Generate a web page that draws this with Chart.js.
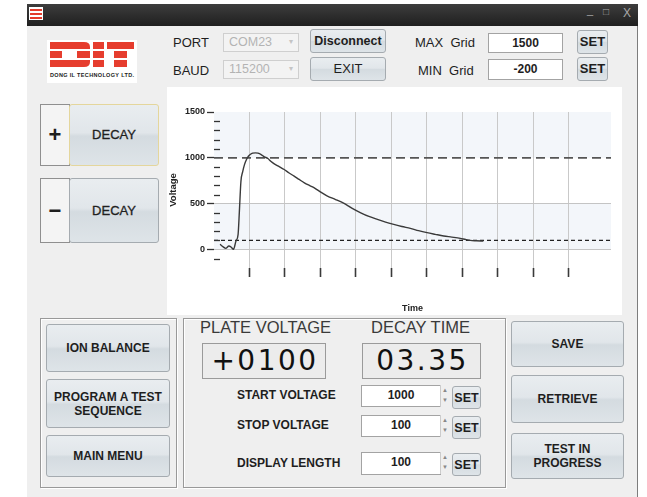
<!DOCTYPE html>
<html>
<head>
<meta charset="utf-8">
<script src="https://cdn.jsdelivr.net/npm/chart.js@4.4.0/dist/chart.umd.min.js"></script>
<style>
body { margin:0; width:647px; height:497px; position:relative; overflow:hidden; background:#fff; font-family:"Liberation Sans", Arial, sans-serif; color:#1e1e1e; }
.abs { position:absolute; }
#janela { left:27px; top:4px; width:610px; height:493px; background:#efefef; border-right:1px solid #7d7d7d; }
#barra { left:27px; top:4px; width:611px; height:22px; background:linear-gradient(#3d3d3d,#1f1f1f); }
.ctrl { position:absolute; top:6px; color:#a8a8a8; font-size:11px; }
.btn { position:absolute; box-sizing:border-box; border:1px solid #a5abb0; border-radius:3px; background:linear-gradient(#e9edf0 0%, #e1e6ea 46%, #d4dbe0 52%, #dee4e8 100%); display:flex; align-items:center; justify-content:center; text-align:center; font-weight:bold; font-size:12px; line-height:14px; color:#1e1e1e; }
.caixa { position:absolute; box-sizing:border-box; background:#fff; border:1px solid #a3a3a3; text-align:center; font-weight:bold; font-size:12px; padding-top:2px; }
.combo { position:absolute; box-sizing:border-box; background:#f3f3f3; border:1px solid #cfcfcf; color:#b3b3b3; font-size:12.5px; padding:1px 0 0 5px; }
.combo span { position:absolute; right:5px; top:3px; font-size:8px; color:#c4c4c4; }
.rot { position:absolute; font-size:13px; white-space:nowrap; }
.rotb { position:absolute; font-size:12px; font-weight:bold; white-space:nowrap; }
.grupo { position:absolute; box-sizing:border-box; border:1px solid #999; box-shadow: inset 1px 1px 0 #fff, 1px 1px 0 #fff; }
.mostrador { position:absolute; box-sizing:border-box; border:1px solid #9a9a9a; background:#ececec; font-family:"DejaVu Sans", sans-serif; font-size:28px; letter-spacing:2.5px; padding-left:2px; text-align:center; line-height:34px; color:#111; }
.spin { position:absolute; box-sizing:border-box; width:9px; height:22px; border-left:1px solid #ccc; font-size:6px; color:#888; text-align:center; line-height:10px; }
.sinal { position:absolute; box-sizing:border-box; background:#f4f4f4; border:1px solid #8f8f8f; font-size:22px; font-weight:bold; display:flex; align-items:center; justify-content:center; }
#grafico { left:167px; top:87px; width:455px; height:228px; background:#fff; }
</style>
</head>
<body>
<div id="janela" class="abs"></div>
<div id="barra" class="abs"></div>
<svg class="abs" style="left:29px;top:7px" width="14" height="13">
  <rect width="14" height="13" fill="#fff"/>
  <rect x="1" y="2" width="12" height="2" fill="#e33b2b"/>
  <rect x="1" y="6" width="12" height="2" fill="#e33b2b"/>
  <rect x="1" y="10" width="12" height="2" fill="#e33b2b"/>
</svg>
<div class="ctrl" style="left:587px;top:4px">_</div>
<div class="ctrl" style="left:603px;font-size:10px">&#9633;</div>
<div class="ctrl" style="left:623px;font-size:12px">X</div>

<svg class="abs" style="left:47px;top:40px" width="90" height="43">
  <rect width="90" height="43" fill="#fff"/>
  <g fill="#e63d2e">
    <path d="M3 2 H37 Q43 2 43 7 V9 H3 Z"/>
    <rect x="3" y="11" width="12" height="7"/>
    <rect x="30" y="11" width="13" height="7"/>
    <path d="M3 20 H43 V22 Q43 27 37 27 H3 Z"/>
    <rect x="46" y="2" width="11" height="7"/>
    <rect x="46" y="11" width="11" height="7"/>
    <rect x="46" y="20" width="11" height="7"/>
    <rect x="60" y="2" width="27" height="7"/>
    <rect x="67" y="11" width="13" height="7"/>
    <rect x="67" y="20" width="13" height="7"/>
  </g>
  <text x="3" y="37" font-size="5.5" font-weight="bold" font-family="Liberation Sans, Arial" textLength="84" fill="#222">DONG IL TECHNOLOGY LTD.</text>
</svg>

<div class="rot" style="left:173px;top:35px">PORT</div>
<div class="rot" style="left:173px;top:63px">BAUD</div>
<div class="combo" style="left:223px;top:33px;width:76px;height:19px">COM23<span>&#9662;</span></div>
<div class="combo" style="left:223px;top:60px;width:76px;height:19px">115200<span>&#9662;</span></div>
<div class="btn" style="left:310px;top:29px;width:76px;height:24px;font-size:12.5px">Disconnect</div>
<div class="btn" style="left:310px;top:57px;width:76px;height:24px;font-weight:normal;font-size:13px">EXIT</div>
<div class="rot" style="left:415px;top:35px">MAX&nbsp; Grid</div>
<div class="rot" style="left:418px;top:63px">MIN&nbsp; Grid</div>
<div class="caixa" style="left:488px;top:33px;width:75px;height:20px">1500</div>
<div class="caixa" style="left:488px;top:59px;width:75px;height:21px">-200</div>
<div class="btn" style="left:577px;top:30px;width:31px;height:24px;font-size:13px">SET</div>
<div class="btn" style="left:577px;top:57px;width:31px;height:24px;font-size:13px">SET</div>

<div class="sinal" style="left:40px;top:104px;width:30px;height:62px">+</div>
<div class="btn" style="left:69px;top:104px;width:90px;height:62px;border-color:#e4d69c;font-weight:normal;font-size:13px;-webkit-text-stroke:0.3px #222">DECAY</div>
<div class="sinal" style="left:40px;top:178px;width:30px;height:65px">&minus;</div>
<div class="btn" style="left:69px;top:178px;width:90px;height:65px;font-weight:normal;font-size:13px;-webkit-text-stroke:0.3px #222">DECAY</div>

<div id="grafico" class="abs"><canvas id="graficoDecaimento" width="455" height="228"></canvas></div>

<div class="grupo" style="left:40px;top:318px;width:137px;height:170px"></div>
<div class="btn" style="left:46px;top:324px;width:124px;height:48px">ION BALANCE</div>
<div class="btn" style="left:46px;top:379px;width:124px;height:49px">PROGRAM A TEST<br>SEQUENCE</div>
<div class="btn" style="left:46px;top:435px;width:124px;height:42px">MAIN MENU</div>

<div class="grupo" style="left:183px;top:318px;width:323px;height:170px"></div>
<div class="rot" style="left:200px;top:318px;font-size:16.5px;color:#3a3a3a">PLATE VOLTAGE</div>
<div class="rot" style="left:371px;top:318px;font-size:16.5px;color:#3a3a3a">DECAY TIME</div>
<div class="mostrador" style="left:202px;top:343px;width:124px;height:36px">+0100</div>
<div class="mostrador" style="left:362px;top:343px;width:119px;height:36px">03.35</div>

<div class="rotb" style="left:237px;top:388px">START VOLTAGE</div>
<div class="caixa" style="left:361px;top:385px;width:80px;height:22px">1000</div>
<div class="spin" style="left:440px;top:385px">&#9650;<br>&#9660;</div>
<div class="btn" style="left:452px;top:386px;width:29px;height:23px;font-size:12.5px">SET</div>

<div class="rotb" style="left:237px;top:418px">STOP VOLTAGE</div>
<div class="caixa" style="left:361px;top:415px;width:80px;height:22px">100</div>
<div class="spin" style="left:440px;top:415px">&#9650;<br>&#9660;</div>
<div class="btn" style="left:452px;top:416px;width:29px;height:23px;font-size:12.5px">SET</div>

<div class="rotb" style="left:237px;top:456px">DISPLAY LENGTH</div>
<div class="caixa" style="left:361px;top:452px;width:80px;height:23px">100</div>
<div class="spin" style="left:440px;top:452px">&#9650;<br>&#9660;</div>
<div class="btn" style="left:452px;top:453px;width:29px;height:23px;font-size:12.5px">SET</div>

<div class="btn" style="left:511px;top:321px;width:113px;height:46px">SAVE</div>
<div class="btn" style="left:511px;top:375px;width:113px;height:48px">RETRIEVE</div>
<div class="btn" style="left:511px;top:433px;width:113px;height:46px">TEST IN<br>PROGRESS</div>

<script>
// dados da curva de decaimento (tempo em divisoes, tensao em V)
var tempos = [0.17, 0.26, 0.33, 0.42, 0.49, 0.55, 0.62, 0.68, 0.72, 0.76, 0.81, 0.86, 0.92, 0.97, 1.03, 1.09, 1.17, 1.24, 1.33, 1.42,
    1.52, 1.61, 1.70, 1.84, 1.98, 2.12, 2.26, 2.40, 2.55, 2.69, 2.83, 3.00, 3.20, 3.43, 3.67, 3.80, 3.90, 4.14, 4.37, 4.61,
    4.84, 5.07, 5.30, 5.54, 5.77, 6.01, 6.24, 6.48, 6.71, 6.95, 7.10, 7.23, 7.40, 7.60];
var tensoes = [58, 30, 14, 40, 25, 3, 94, 167, 450, 746, 850, 927, 985, 1018, 1040, 1051, 1055, 1051, 1036, 1012,
    993, 960, 935, 905, 873, 835, 801, 765, 728, 700, 674, 630, 584, 546, 503, 474, 450, 402, 362, 329,
    300, 275, 252, 232, 207, 185, 167, 149, 137, 123, 110, 101, 97, 94];

var gradeMin = -200;
var gradeMax = 1500;
var tempoMax = 11.2;
var tensaoInicial = 1000;
var tensaoFinal = 100;
var faixasSombreadas = [[1000, 1500], [0, 500]];

Chart.defaults.font.family = '"Liberation Sans", Arial, sans-serif';

var pontosCurva = [];
for (var i = 0; i < tempos.length; i++) {
    pontosCurva.push({ x: tempos[i], y: tensoes[i] });
}

const pluginFaixas = {
    id: 'faixas',
    beforeDraw(chart) {
        const ctx = chart.ctx;
        const area = chart.chartArea;
        const y = chart.scales.y;
        ctx.save();
        ctx.fillStyle = '#f3f6fa';
        faixasSombreadas.forEach((f) => {
            const yTopo = y.getPixelForValue(f[1]);
            const yBase = y.getPixelForValue(f[0]);
            ctx.fillRect(area.left, yTopo, area.right - area.left, yBase - yTopo);
        });
        ctx.restore();
    },
    afterDraw(chart) {
        // marcas menores do eixo y, para dentro da area
        const ctx = chart.ctx;
        const area = chart.chartArea;
        const y = chart.scales.y;
        ctx.save();
        ctx.strokeStyle = '#333';
        ctx.lineWidth = 1.3;
        y.ticks.forEach((t) => {
            if (t.value % 500 !== 0 && t.value > gradeMin) {
                const py = Math.round(y.getPixelForValue(t.value)) + 0.5;
                ctx.beginPath();
                ctx.moveTo(area.left, py);
                ctx.lineTo(area.left + 6, py);
                ctx.stroke();
            }
        });
        ctx.restore();
    }
};

const ctx = document.getElementById('graficoDecaimento');

const config = {
    type: 'line',
    data: {
        datasets: [
            {
                label: 'Tensao',
                data: pontosCurva,
                borderColor: '#3a3a3a',
                borderWidth: 1.4,
                pointRadius: 0,
                cubicInterpolationMode: 'monotone',
                order: 0
            },
            {
                label: 'Start',
                data: [{ x: 0, y: tensaoInicial }, { x: tempoMax, y: tensaoInicial }],
                borderColor: '#555',
                borderWidth: 1.6,
                borderDash: [9, 5],
                pointRadius: 0,
                order: 1
            },
            {
                label: 'Stop',
                data: [{ x: 0, y: tensaoFinal }, { x: tempoMax, y: tensaoFinal }],
                borderColor: '#222',
                borderWidth: 1.2,
                borderDash: [4, 3],
                pointRadius: 0,
                order: 2
            }
        ]
    },
    options: {
        responsive: false,
        animation: false,
        layout: { padding: { top: 25, right: 11 } },
        plugins: { legend: { display: false }, tooltip: { enabled: false } },
        scales: {
            x: {
                type: 'linear',
                min: 0,
                max: tempoMax,
                border: { display: false },
                ticks: { display: false, stepSize: 1, autoSkip: false },
                grid: {
                    color: (c) => (Number.isInteger(c.tick.value) && c.tick.value > 0) ? '#c9c9c9' : 'rgba(0,0,0,0)',
                    tickColor: (c) => (Number.isInteger(c.tick.value) && c.tick.value > 0) ? '#3a3a3a' : 'rgba(0,0,0,0)',
                    tickLength: 9,
                    tickWidth: 1.6
                },
                title: { display: true, text: 'Time', color: '#222', font: { size: 9, weight: 'bold' }, padding: { top: 0, bottom: 1 } },
                afterFit: (s) => { s.height = 47; }
            },
            y: {
                min: gradeMin,
                max: gradeMax,
                border: { display: false },
                ticks: {
                    stepSize: 100,
                    autoSkip: false,
                    padding: 2,
                    color: '#222',
                    font: { size: 9, weight: 'bold' },
                    callback: (v) => (v % 500 === 0 && v >= 0) ? v : ''
                },
                grid: {
                    color: (c) => (c.tick.value === 0 || c.tick.value === 500) ? '#c4c4c4' : 'rgba(0,0,0,0)',
                    tickColor: (c) => (c.tick.value % 500 === 0 && c.tick.value >= 0) ? '#333' : 'rgba(0,0,0,0)',
                    tickLength: 7,
                    tickWidth: 1.3
                },
                title: { display: true, text: 'Voltage', color: '#222', font: { size: 9.5, weight: 'bold' }, padding: { top: 1, bottom: 0 } },
                afterFit: (s) => { s.width = 47; }
            }
        }
    },
    plugins: [pluginFaixas]
};

let graficoDecaimento = new Chart(ctx, config);
</script>
</body>
</html>
